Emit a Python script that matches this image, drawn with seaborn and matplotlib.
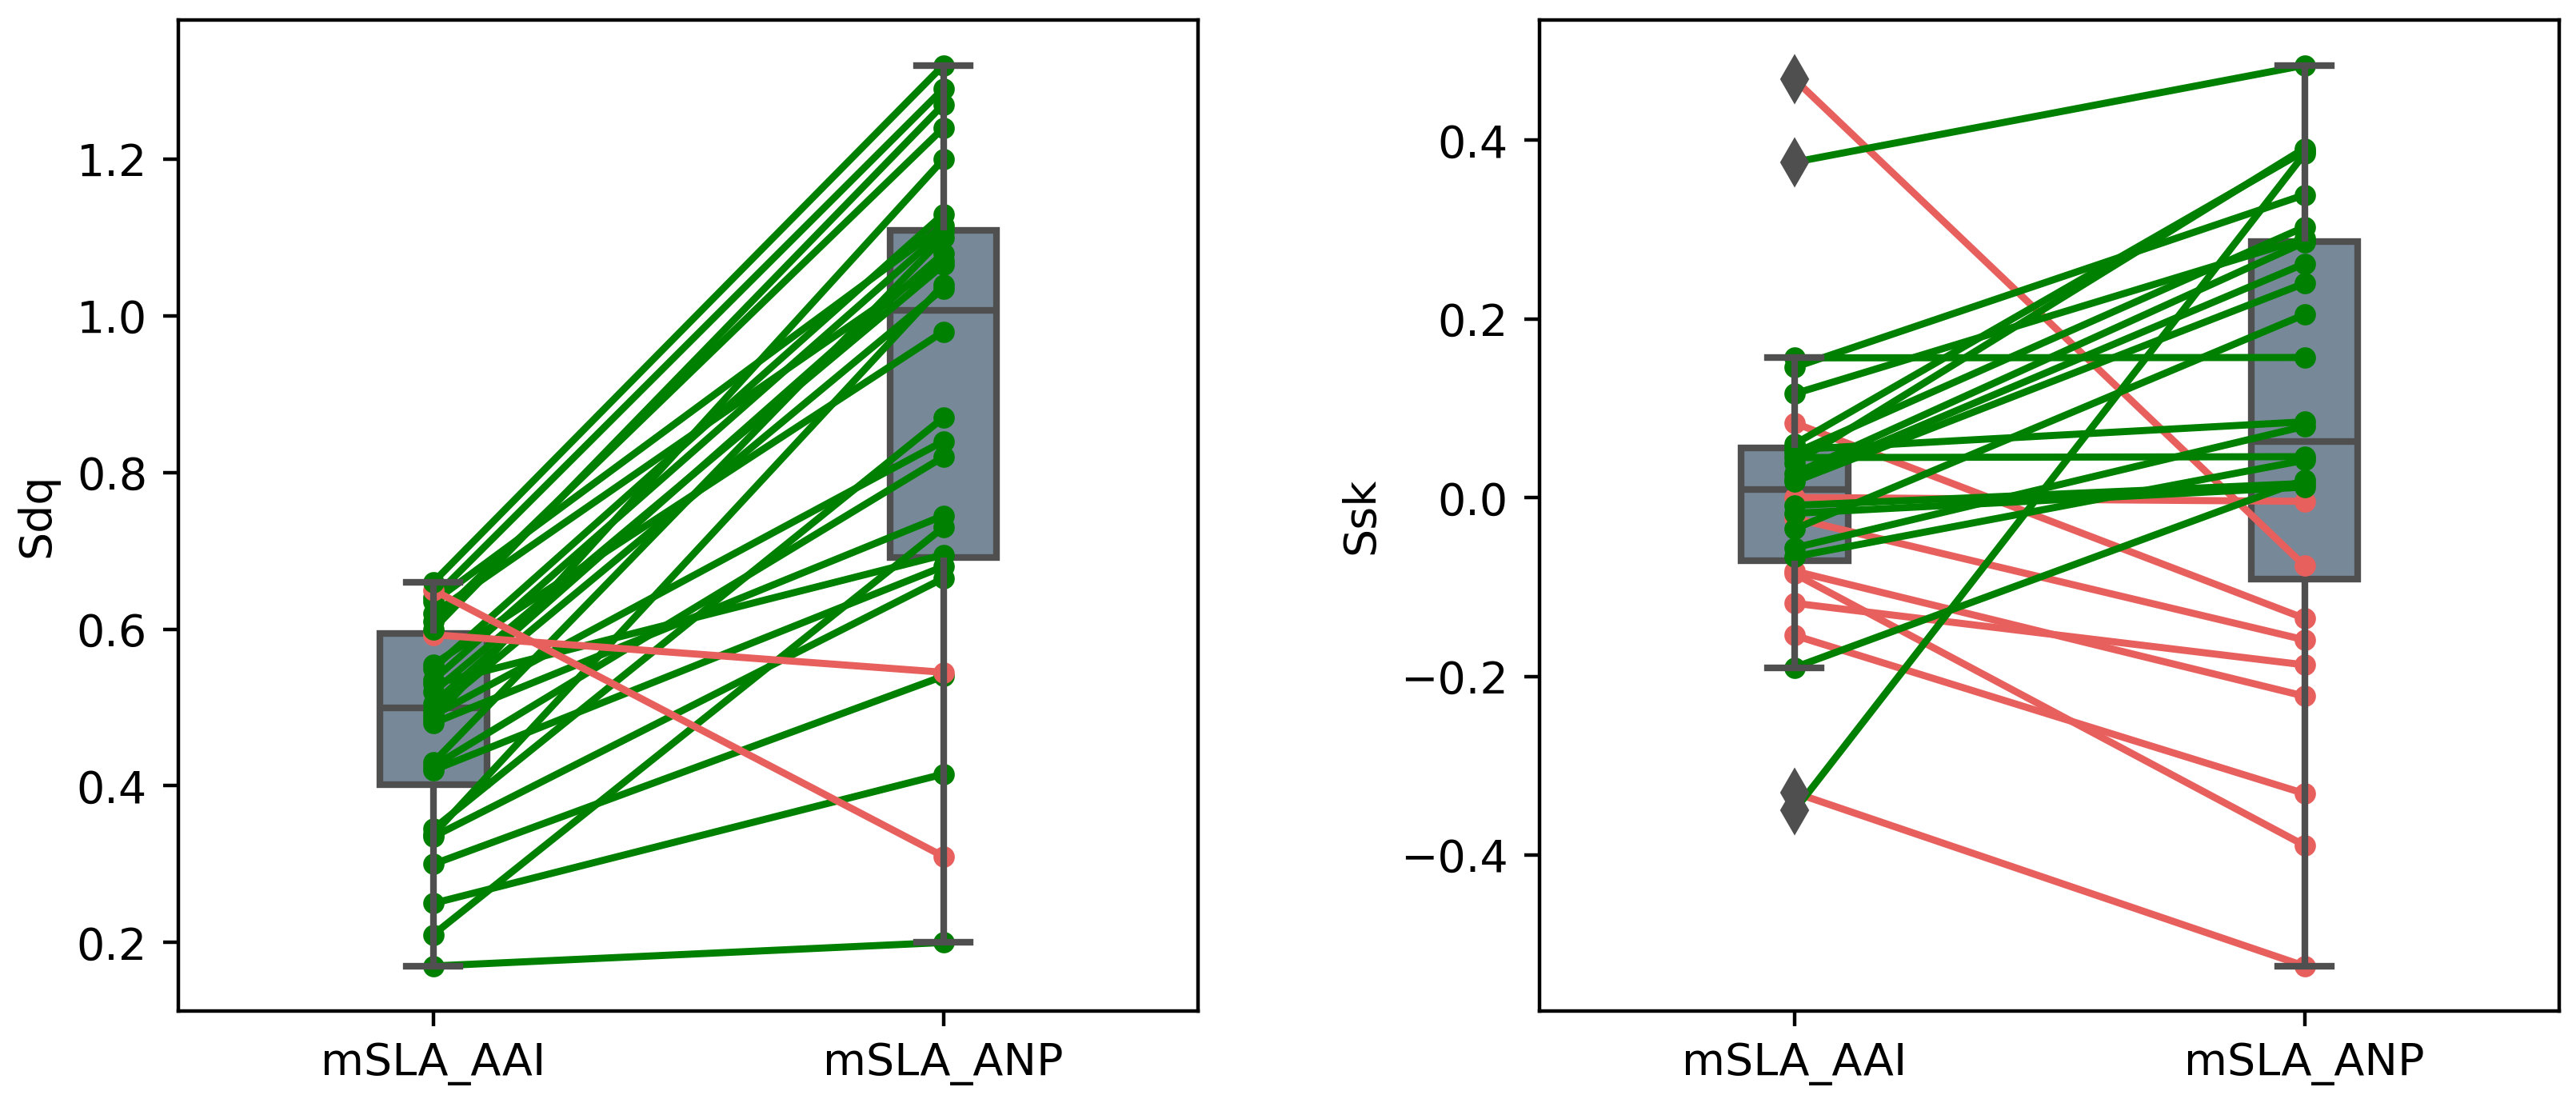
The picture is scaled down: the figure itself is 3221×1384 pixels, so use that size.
import numpy as np
import pandas as pd
import matplotlib
matplotlib.use("Agg")
import matplotlib.pyplot as plt
import seaborn as sns

# ---- data (paired samples) ----
groups = ["mSLA_AAI", "mSLA_ANP"]

sdq_aai = [0.17, 0.21, 0.25, 0.30, 0.335, 0.338, 0.345, 0.42, 0.425, 0.43,
           0.48, 0.485, 0.49, 0.495, 0.505, 0.52, 0.53, 0.535, 0.55, 0.555,
           0.593, 0.60, 0.61, 0.62, 0.635, 0.64, 0.65, 0.66]
sdq_anp = [0.20, 0.73, 0.415, 0.54, 0.665, 1.04, 0.87, 0.68, 0.82, 1.10,
           0.745, 1.20, 0.84, 1.035, 1.08, 1.065, 0.695, 1.108, 1.13, 0.98,
           0.545, 1.27, 1.24, 1.07, 1.115, 1.29, 0.31, 1.32]

ssk_aai = [0.4685, 0.0837, 0.0004, -0.023, -0.082, -0.085, -0.118, -0.154, -0.33,
           0.3756, -0.35, 0.1566, 0.054, 0.045, 0.039, 0.06, 0.050, 0.027,
           0.021, 0.018, 0.146, 0.1164, -0.0085, -0.0174, -0.035, -0.056,
           -0.066, -0.19]
ssk_anp = [-0.076, -0.135, -0.004, -0.159, -0.222, -0.389, -0.187, -0.331, -0.524,
           0.484, 0.385, 0.157, 0.085, 0.046, 0.391, 0.388, 0.303, 0.286,
           0.262, 0.240, 0.339, 0.29, 0.016, 0.012, 0.205, 0.08, 0.042, 0.02]

box_color = "#778899"
edge_color = "#4f4f4f"
up_color = "green"
down_color = "#e8605e"


def paired_box(ax, before, after, ylabel):
    df = pd.DataFrame({
        "group": [groups[0]] * len(before) + [groups[1]] * len(after),
        "value": list(before) + list(after),
    })
    # one line per sample, green if it increases, red if it decreases
    for b, a in zip(before, after):
        c = up_color if a > b else down_color
        ax.plot(range(len(groups)), [b, a], "o-", color=c, lw=1.6, ms=3.8, zorder=2)
    sns.boxplot(data=df, x="group", y="value", order=groups, ax=ax,
                color=box_color, saturation=1, width=0.21,
                linecolor=edge_color, linewidth=1.5,
                boxprops=dict(zorder=1),
                medianprops=dict(zorder=1.5),
                whiskerprops=dict(zorder=3),
                capprops=dict(zorder=3),
                flierprops=dict(marker="d", markerfacecolor=edge_color,
                                markeredgecolor=edge_color, markersize=6.5, zorder=4))
    ax.set_xlabel("")
    ax.set_ylabel(ylabel)


fig = plt.figure(figsize=(3221 / 400, 1384 / 400), dpi=400)
ax1 = fig.add_axes([0.0692, 0.0867, 0.396, 0.895])
ax2 = fig.add_axes([0.5976, 0.0867, 0.396, 0.895])

paired_box(ax1, sdq_aai, sdq_anp, "Sdq")
paired_box(ax2, ssk_aai, ssk_anp, "Ssk")

fig.savefig("out.png", dpi=400)
